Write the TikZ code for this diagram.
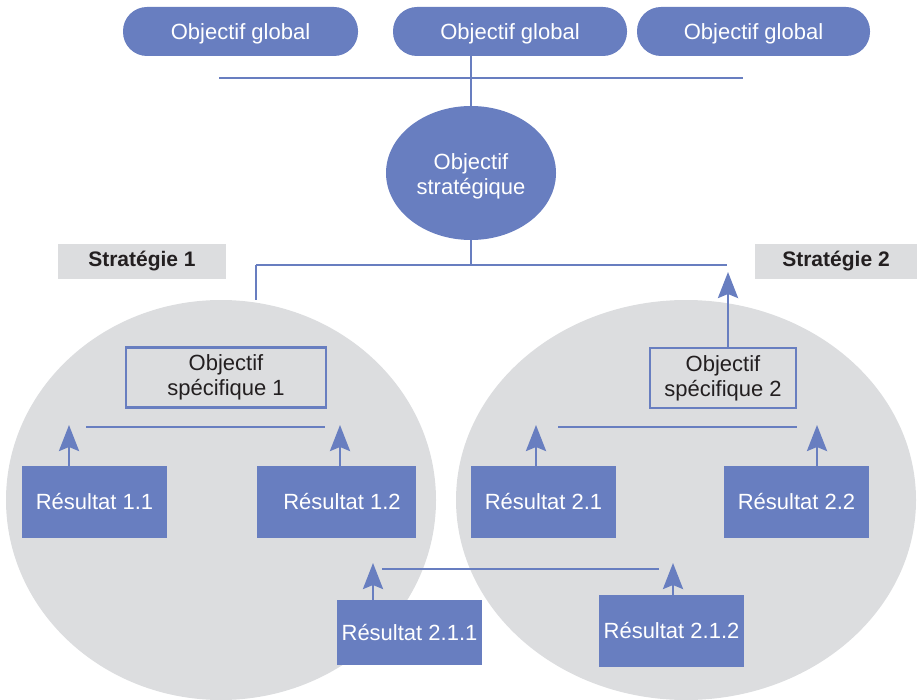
\documentclass[tikz,border=0pt]{standalone}
\usepackage{fontspec}
\setmainfont{Liberation Sans}
\usetikzlibrary{shapes.geometric,arrows.meta}
\definecolor{bleu}{RGB}{104,126,192}
\definecolor{gris}{RGB}{220,221,223}
\definecolor{encre}{RGB}{35,31,32}
% lower a text without changing the box TikZ centres
\newcommand{\abaisse}[2]{\raisebox{-#1}[\height][\depth]{#2}}
\tikzset{
  txt/.style={font=\fontsize{22}{25}\selectfont, align=center, inner sep=0pt},
  pill/.style={txt, fill=bleu, text=white, rounded corners=24pt, minimum height=49pt},
  resbox/.style={txt, fill=bleu, text=white, minimum width=145pt, minimum height=72pt},
  objbox/.style={txt, draw=bleu, line width=2.6pt, fill=gris, text=encre, minimum height=60pt},
  bulle/.style={ellipse, fill=gris, inner sep=0pt},
  etiquette/.style={fill=gris, text=encre, inner sep=0pt, minimum height=35pt,
    font=\bfseries\fontsize{21}{25}\selectfont},
  lien/.style={draw=bleu, line width=2.8pt},
  fleche/.style={lien, -{Stealth[length=26pt,width=20pt,inset=4pt]}},
}
\begin{document}
\begin{tikzpicture}[x=1pt,y=-1pt]
\useasboundingbox (0,0) rectangle (917,700);

% the two strategy areas
\node[bulle, minimum width=430pt, minimum height=400pt] (zone1) at (221,500) {};
\node[bulle, minimum width=460pt, minimum height=400pt] (zone2) at (686,500) {};

% strategy labels
\node[etiquette, minimum width=168pt] (strat1) at (142,261.5) {Stratégie 1};
\node[etiquette, minimum width=162pt] (strat2) at (836,261.5) {Stratégie 2};

% global objectives
\node[pill, minimum width=235pt] (g1) at (240.5,31.5) {\abaisse{2pt}{Objectif global}};
\node[pill, minimum width=234pt] (g2) at (510,31.5) {\abaisse{2pt}{Objectif global}};
\node[pill, minimum width=233pt] (g3) at (753.5,31.5) {\abaisse{2pt}{Objectif global}};

% strategic objective
\node[ellipse, fill=bleu, text=white, txt, minimum width=170pt, minimum height=134pt]
  (strat) at (471,173)
  {\abaisse{4pt}{\begin{tabular}{@{}c@{}}Objectif\\stratégique\end{tabular}}};

% specific objectives
\node[objbox, minimum width=200pt] (os1) at (226,377.5) {Objectif\\spécifique 1};
\node[objbox, minimum width=146pt] (os2) at (723,378) {Objectif\\spécifique 2};

% results
\node[resbox] (r11) at (94.5,502) {Résultat 1.1};
\node[resbox, minimum width=159pt] (r12) at (336.5,502) {\hspace*{11pt}Résultat 1.2};
\node[resbox] (r21) at (543.5,502) {Résultat 2.1};
\node[resbox] (r22) at (796.5,502) {Résultat 2.2};
\node[resbox, minimum height=65pt] (r211) at (409.5,632.5) {Résultat 2.1.1};
\node[resbox] (r212) at (671.5,631) {Résultat 2.1.2};

% connector ends
\coordinate (hautG) at (219,78);
\coordinate (hautD) at (743,78);
\coordinate (milG) at (256,265);
\coordinate (milD) at (727,265);
\coordinate (b1G) at (86,427);
\coordinate (b1D) at (325,427);
\coordinate (b2G) at (558,427);
\coordinate (b2D) at (797,427);
\coordinate (b3G) at (382,569);
\coordinate (b3D) at (659,569);
\coordinate (p11) at (69,425);
\coordinate (p12) at (340,425);
\coordinate (p21) at (536,425);
\coordinate (p22) at (817,425);
\coordinate (p211) at (373,563);
\coordinate (p212) at (673,563);
\coordinate (pos2) at (728,272);

% top level links
\draw[lien] (hautG) -- (hautD);
\draw[lien] (strat.north) -- (strat.north |- g2.south);
\draw[lien] (strat.south) -- (strat.south |- milG);
\draw[lien] (milG) -- (milD);
\draw[lien] (milG) -- (milG |- zone1.north);
\draw[fleche] (os2.north -| pos2) -- (pos2);

% result level links
\draw[lien] (b1G) -- (b1D);
\draw[lien] (b2G) -- (b2D);
\draw[lien] (b3G) -- (b3D);
\draw[fleche] (r11.north -| p11) -- (p11);
\draw[fleche] (r12.north -| p12) -- (p12);
\draw[fleche] (r21.north -| p21) -- (p21);
\draw[fleche] (r22.north -| p22) -- (p22);
\draw[fleche] (r211.north -| p211) -- (p211);
\draw[fleche] (r212.north -| p212) -- (p212);
\end{tikzpicture}
\end{document}
